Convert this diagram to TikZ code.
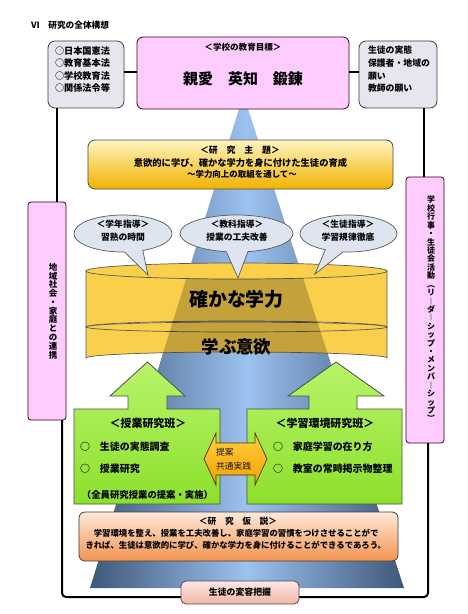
\documentclass[tikz,border=0pt]{standalone}
\usepackage{fontspec}
\setmainfont{Noto Sans CJK JP}
\usetikzlibrary{shapes.callouts}
\definecolor{pinkA}{HTML}{FFCCFF}
\definecolor{grayA}{HTML}{E6E6EE}
\definecolor{coneD}{HTML}{3E5878}
\definecolor{coneL}{HTML}{9CC2F0}
\definecolor{yelT}{HTML}{FFF4C0}
\definecolor{yelB}{HTML}{F2B200}
\definecolor{cylY}{HTML}{FACF4C}
\definecolor{bubC}{HTML}{DEE5F1}
\definecolor{grnT}{HTML}{B8F46A}
\definecolor{grnB}{HTML}{8CE02C}
\definecolor{orgT}{HTML}{FFD040}
\definecolor{orgB}{HTML}{F5A000}
\definecolor{hypT}{HTML}{FEE8DA}
\definecolor{hypB}{HTML}{F39450}
\definecolor{botT}{HTML}{FDE8E8}
\definecolor{botB}{HTML}{F2B4A4}
\newcommand\jfs[2]{\fontsize{#1}{#2}\selectfont}
\begin{document}
\begin{tikzpicture}[x=1bp,y=-1bp,
  every node/.style={inner sep=0pt,outer sep=0pt},
  frame/.style={line width=2bp,black},
  grybox/.style={draw=black!75,fill=grayA,rounded corners=7bp,line width=0.8bp},
  goalbox/.style={draw=black!70!purple,fill=pinkA,rounded corners=6bp,line width=0.8bp},
  sidebox/.style={draw=black!70!purple,fill=pinkA,rounded corners=3bp,line width=0.8bp},
  themebox/.style={draw=black!70,top color=yelT,bottom color=yelB,rounded corners=7bp,line width=0.8bp},
  bubble/.style={ellipse callout,draw=black!65,fill=bubC,line width=0.7bp,callout pointer arc=22},
  cylline/.style={draw=black!65,line width=0.7bp},
  grnshape/.style={draw=black!70,top color=grnT,bottom color=grnB,line width=0.8bp},
  orgshape/.style={draw=black!60!brown,top color=orgT,bottom color=orgB,line width=0.7bp},
  hypbox/.style={draw=black!75,top color=hypT,bottom color=hypB,rounded corners=6bp,line width=0.8bp},
  botbox/.style={draw=black!70,top color=botT,bottom color=botB,rounded corners=5bp,line width=0.8bp},
  bt/.style={font=\bfseries}
]
\useasboundingbox (0,0) rectangle (468,614);
\fill[white] (0,0) rectangle (468,614);

% title
\node[bt,anchor=west,font=\bfseries\jfs{8.7}{10}] (title) at (31,25) {Ⅵ　研究の全体構想};

% cone
\path[left color=coneD,right color=coneD,middle color=coneL]
  (239,109) -- (248,109) -- (404,588) -- (90,588) -- cycle;

% top boxes
\node[grybox,minimum width=76bp,minimum height=67bp] (law) at (86,74.5) {};
\node[grybox,minimum width=78bp,minimum height=67bp] (wish) at (398,74.5) {};
\node[goalbox,minimum width=212bp,minimum height=72bp] (goal) at (243,73) {};
\node[anchor=west,align=left,font=\bfseries\jfs{9.2}{12.7}] (lawtxt) at (55,69.5)
  {○日本国憲法\\○教育基本法\\○学校教育法\\○関係法令等};
\node[anchor=west,align=left,font=\bfseries\jfs{8.9}{12.7}] (wishtxt) at (368,69.5)
  {生徒の実態\\保護者・地域の\\願い\\教師の願い};
\node[font=\bfseries\jfs{8.6}{10}] (goalt) at (243,47) {＜学校の教育目標＞};
\node[font=\bfseries\jfs{15}{16}] (goalm) at (243,78.5) {親愛　英知　鍛錬};

% side boxes
\node[sidebox,minimum width=38bp,minimum height=218bp] (lside) at (47,311) {};
\node[sidebox,minimum width=38bp,minimum height=266bp] (rside) at (425,310) {};
\node[align=center,font=\bfseries\jfs{8.5}{8.8}] (ltxt) at (53,311)
  {地\\域\\社\\会\\・\\家\\庭\\と\\の\\連\\携};
\node[align=center,font=\bfseries\jfs{8}{8.45}] (rtxt) at (431,309)
  {学\\校\\行\\事\\・\\生\\徒\\会\\活\\動\\︵\\リ\\︱\\ダ\\︱\\シ\\ッ\\プ\\・\\メ\\ン\\バ\\︱\\シ\\ッ\\プ\\︶};

% frame lines
\coordinate (lx) at (57,0);
\coordinate (rx) at (424,0);
\coordinate (lx2) at (62,0);
\coordinate (rx2) at (428,0);
\coordinate (fb) at (0,597);
\coordinate (ly) at (0,72);
\draw[frame] (law.east |- ly) -- (goal.west |- ly);
\draw[frame] (goal.east |- ly) -- (wish.west |- ly);
\draw[frame] (lx |- law.south) -- (lx |- lside.north);
\draw[frame] (rx |- wish.south) -- (rx |- rside.north);
\draw[frame,rounded corners=4bp] (lx2 |- lside.south) -- (lx2 |- fb) -- (rx2 |- fb) -- (rx2 |- rside.south);

% theme
\node[themebox,minimum width=305bp,minimum height=49bp] (theme) at (240.5,164.5) {};
\node[font=\bfseries\jfs{8.9}{10}] (themet) at (240,150) {＜研　究　主　題＞};
\node[font=\bfseries\jfs{9.3}{10}] (themem) at (240.5,163) {意欲的に学び、確かな学力を身に付けた生徒の育成};
\node[font=\bfseries\jfs{8.5}{10}] (themes) at (242,174.5) {～学力向上の取組を通して～};

% cylinders
\path[cylline,fill=cylY] (86,271) -- (86,327) arc[start angle=180,end angle=360,x radius=150.5,y radius=6] -- (387,271) -- cycle;
\path[cylline,fill=cylY] (236.5,271) ellipse[x radius=150.5,y radius=8];
\path[cylline,fill=cylY] (86,327) -- (86,358) arc[start angle=180,end angle=360,x radius=150.5,y radius=6] -- (387,327) -- cycle;
\path[cylline,fill=cylY] (236.5,327) ellipse[x radius=150.5,y radius=5];
\begin{scope}
  \clip (86,271) arc[start angle=180,end angle=0,x radius=150.5,y radius=8] -- (387,358)
        arc[start angle=0,end angle=-180,x radius=150.5,y radius=6] -- cycle;
  \fill[black,opacity=0.22] (239,109) -- (248,109) -- (404,588) -- (90,588) -- cycle;
\end{scope}
\node[font=\bfseries\jfs{19}{20}] (gakuryoku) at (236.5,299) {確かな学力};
\node[font=\bfseries\jfs{17.5}{18}] (iyoku) at (236.5,347) {学ぶ意欲};

% bubbles
\node[bubble,minimum width=98bp,minimum height=37bp,callout absolute pointer={(148,275)}] (b1) at (123,233.5) {};
\node[bubble,minimum width=113bp,minimum height=37bp,callout absolute pointer={(238,278)}] (b2) at (236.5,233.5) {};
\node[bubble,minimum width=97bp,minimum height=37bp,callout absolute pointer={(315,274)}] (b3) at (348.5,233.5) {};
\node[align=center,font=\bfseries\jfs{8.8}{13}] (b1t) at (123,230.5) {＜学年指導＞\\習熟の時間};
\node[align=center,font=\bfseries\jfs{8.8}{13}] (b2t) at (237,230.5) {＜教科指導＞\\授業の工夫改善};
\node[align=center,font=\bfseries\jfs{8.8}{13}] (b3t) at (348,230.5) {＜生徒指導＞\\学習規律徹底};

% green arrows + boxes
\draw[grnshape] (74,409) -- (128,409) -- (128,396) -- (110,396) -- (147.5,362) -- (185,396)
  -- (167,396) -- (167,409) -- (220,409) -- (220,504) -- (74,504) -- cycle;
\draw[grnshape] (247,409) -- (309,409) -- (309,396) -- (288,396) -- (336,362) -- (384,396)
  -- (357,396) -- (357,409) -- (402,409) -- (402,504) -- (247,504) -- cycle;
\node[font=\bfseries\jfs{11}{12}] (g1t) at (148,423) {＜授業研究班＞};
\node[anchor=west,font=\bfseries\jfs{10}{11}] (g1a) at (80,447) {○　生徒の実態調査};
\node[anchor=west,font=\bfseries\jfs{10}{11}] (g1b) at (80,469) {○　授業研究};
\node[font=\bfseries\jfs{9.4}{10}] (g1c) at (147.5,495) {（全員研究授業の提案・実施）};
\node[font=\bfseries\jfs{11}{12}] (g2t) at (325,423) {＜学習環境研究班＞};
\node[anchor=west,font=\bfseries\jfs{10}{11}] (g2a) at (273,447) {○　家庭学習の在り方};
\node[anchor=west,font=\bfseries\jfs{10}{11}] (g2b) at (273,469) {○　教室の常時掲示物整理};

% orange double arrow
\draw[orgshape] (204,459) -- (216,433) -- (216,443) -- (255,443) -- (255,433) -- (267,459)
  -- (255,485) -- (255,475) -- (216,475) -- (216,485) -- cycle;
\node[anchor=west,font=\jfs{8.8}{10},text=black!90] (oa) at (216,452) {提案};
\node[anchor=west,font=\jfs{8.8}{10},text=black!90] (ob) at (216,466) {共通実践};

% hypothesis
\node[hypbox,minimum width=319bp,minimum height=49bp] (hyp) at (238.5,536.5) {};
\node[font=\bfseries\jfs{8.7}{10}] (hypt) at (238,521) {＜研　究　仮　説＞};
\node[anchor=west,font=\bfseries\jfs{8.4}{10}] (hyp1) at (85.5,533) {　学習環境を整え、授業を工夫改善し、家庭学習の習慣をつけさせることがで};
\node[anchor=west,font=\bfseries\jfs{8.4}{10}] (hyp2) at (85.5,545) {きれば、生徒は意欲的に学び、確かな学力を身に付けることができるであろう。};

% bottom box
\node[botbox,minimum width=118bp,minimum height=23bp] (bot) at (240,592.5) {};
\node[font=\bfseries\jfs{8.9}{10}] (bott) at (240,592) {生徒の変容把握};
\end{tikzpicture}
\end{document}
